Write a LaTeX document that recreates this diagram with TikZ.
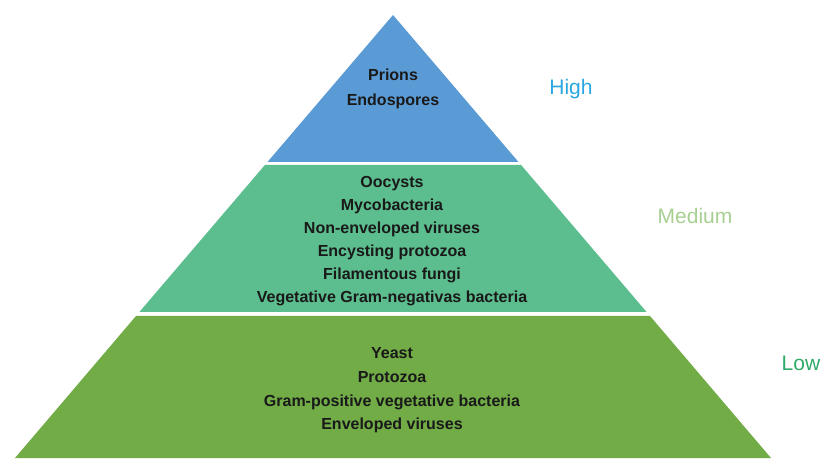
\documentclass[tikz,border=0pt]{standalone}
\usepackage{fontspec}
\setmainfont{Liberation Sans}
\definecolor{tierhigh}{HTML}{5B9BD5}
\definecolor{tiermid}{HTML}{5CBD8E}
\definecolor{tierlow}{HTML}{71AC47}
\definecolor{lblhigh}{HTML}{2AA6E0}
\definecolor{lblmid}{HTML}{A7CF92}
\definecolor{lbllow}{HTML}{2FAA68}
\tikzset{
  tiertext/.style={align=center, font=\fontsize{16}{23}\selectfont\bfseries, text=black!90},
  levellabel/.style={font=\fontsize{21}{24}\selectfont, anchor=center}
}
\begin{document}
\begin{tikzpicture}[x=1pt,y=1pt]
\useasboundingbox (0,0) rectangle (822,458);
% tiers
\fill[tierhigh] (393,443) -- (518.5,296) -- (267.5,296) -- cycle;
\fill[tiermid] (264.9,293) -- (521.1,293) -- (646.6,146) -- (139.4,146) -- cycle;
\fill[tierlow] (136,142) -- (650,142) -- (771,0) -- (15,0) -- cycle;
% texts
\node[tiertext, font=\fontsize{16}{25}\selectfont\bfseries] (thigh) at (393,369.5) {Prions\\Endospores};
\node[tiertext] (tmid) at (392,216.5) {Oocysts\\Mycobacteria\\Non-enveloped viruses\\Encysting protozoa\\Filamentous fungi\\Vegetative Gram-negativas bacteria};
\node[tiertext, font=\fontsize{16}{23.7}\selectfont\bfseries] (tlow) at (392,67.5) {Yeast\\Protozoa\\Gram-positive vegetative bacteria\\Enveloped viruses};
% level labels
\node[levellabel, text=lblhigh] (lhigh) at (571,369) {High};
\node[levellabel, text=lblmid] (lmid) at (695,242) {Medium};
\node[levellabel, text=lbllow] (llow) at (801,95) {Low};
\end{tikzpicture}
\end{document}
